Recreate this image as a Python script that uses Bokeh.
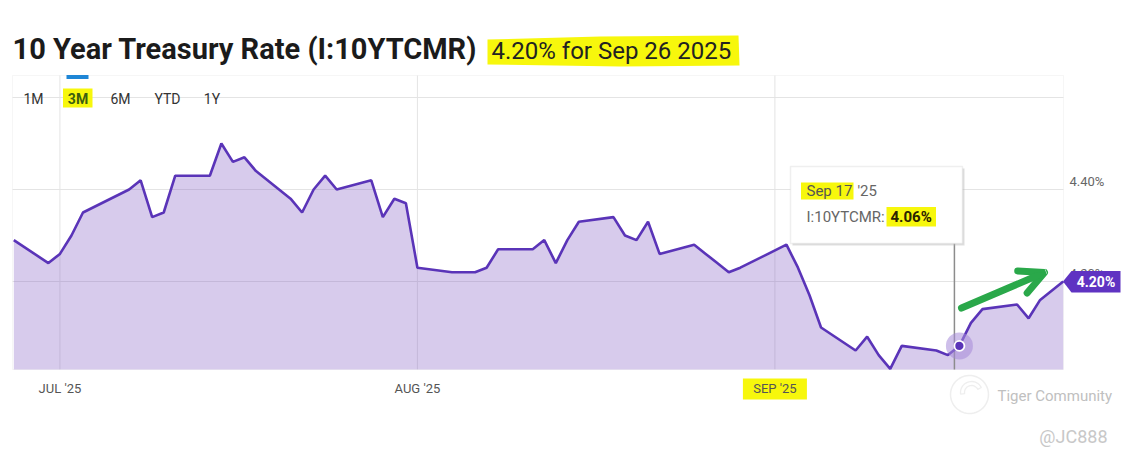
import numpy as np
import pandas as pd
from bokeh.plotting import figure
from bokeh.models import (ColumnDataSource, Range1d, LinearAxis, DatetimeAxis, FixedTicker, Grid,
                          Label, BoxAnnotation, PolyAnnotation, Arrow, OpenHead,
                          PrintfTickFormatter)
from bokeh.embed import file_html
from bokeh.resources import INLINE

# ---------------- data ----------------
DATES = ["2025-06-27", "2025-06-30", "2025-07-01", "2025-07-02", "2025-07-03", "2025-07-07",
         "2025-07-08", "2025-07-09", "2025-07-10", "2025-07-11", "2025-07-14", "2025-07-15",
         "2025-07-16", "2025-07-17", "2025-07-18", "2025-07-21", "2025-07-22", "2025-07-23",
         "2025-07-24", "2025-07-25", "2025-07-28", "2025-07-29", "2025-07-30", "2025-07-31",
         "2025-08-01", "2025-08-04", "2025-08-05", "2025-08-06", "2025-08-07", "2025-08-08",
         "2025-08-11", "2025-08-12", "2025-08-13", "2025-08-14", "2025-08-15", "2025-08-18",
         "2025-08-19", "2025-08-20", "2025-08-21", "2025-08-22", "2025-08-25", "2025-08-26",
         "2025-08-27", "2025-08-28", "2025-08-29", "2025-09-02", "2025-09-03", "2025-09-04",
         "2025-09-05", "2025-09-08", "2025-09-09", "2025-09-10", "2025-09-11", "2025-09-12",
         "2025-09-15", "2025-09-16", "2025-09-17", "2025-09-18", "2025-09-19", "2025-09-22",
         "2025-09-23", "2025-09-24", "2025-09-25", "2025-09-26"]
VALUES = [4.29, 4.24, 4.26, 4.30, 4.35, 4.40,
          4.42, 4.34, 4.35, 4.43, 4.43, 4.50,
          4.46, 4.47, 4.44, 4.38, 4.35, 4.40,
          4.43, 4.40, 4.42, 4.34, 4.38, 4.37,
          4.23, 4.22, 4.22, 4.22, 4.23, 4.27,
          4.27, 4.29, 4.24, 4.29, 4.33, 4.34,
          4.30, 4.29, 4.33, 4.26, 4.28, 4.26,
          4.24, 4.22, 4.23, 4.28, 4.23, 4.17,
          4.10, 4.05, 4.08, 4.04, 4.01, 4.06,
          4.05, 4.04, 4.06, 4.11, 4.14, 4.15,
          4.12, 4.16, 4.18, 4.20]
TICK_DATES = ["2025-07-01", "2025-08-01", "2025-09-01"]
TICK_LABELS = ["JUL '25", "AUG '25", "SEP '25"]
RIGHT_TICKS = [4.20, 4.40]
GRID_TICKS = [4.20, 4.40, 4.60]
RANGE_BUTTONS = ["1M", "3M", "6M", "YTD", "1Y"]
ACTIVE_BUTTON = "3M"
TITLE = "10 Year Treasury Rate (I:10YTCMR)"
SUBTITLE = "4.20% for Sep 26 2025"
SERIES = "I:10YTCMR"
TIP_DATE = "2025-09-17"
HIGHLIGHT_TICK = "2025-09-01"

# ---------------- geometry (page pixels of the reference) ----------------
FONT = "Roboto"
DAY = 86400000.0


def ms(s):
    return pd.Timestamp(s).value / 1e6


date_ms = [ms(d) for d in DATES]
tick_ms = [ms(d) for d in TICK_DATES]

W, H = 1128, 454
L, R, T, B = 12, 1063, 75, 369          # visible chart box
x_start = date_ms[0] - 0.113 * DAY
x_end = date_ms[-1] + 0.026 * DAY
y_start, y_end = 4.0087, 4.6478
KX = (x_end - x_start) / (R - L)
KY = (y_end - y_start) / (B - T)


def X(px):
    return x_start + (px - L) * KX


def Y(py):
    return y_end - (py - T) * KY


def py_of(v):
    return T + (y_end - v) / KY


p = figure(width=W, height=H, x_axis_type="datetime",
           x_range=Range1d(X(0), X(W)), y_range=Range1d(Y(H), Y(0)),
           x_axis_location=None, y_axis_location=None,
           toolbar_location=None, output_backend="svg",
           min_border=0, min_border_left=0, min_border_right=0,
           min_border_top=0, min_border_bottom=0)
p.background_fill_color = "white"
p.border_fill_color = "white"
p.outline_line_color = None
for g in list(p.center):
    if isinstance(g, Grid):
        p.center.remove(g)

# grid lines limited to the chart box
GC = "#e4e4e4"
p.segment(x0=[X(L)] * len(GRID_TICKS), x1=[X(R)] * len(GRID_TICKS),
          y0=GRID_TICKS, y1=GRID_TICKS, line_color=GC, line_width=1)
p.segment(x0=tick_ms, x1=tick_ms, y0=[y_start] * len(tick_ms), y1=[Y(T)] * len(tick_ms),
          line_color=GC, line_width=1)

# ---------------- series ----------------
src = ColumnDataSource(dict(date=date_ms, val=VALUES))
p.varea(x="date", y1=y_start, y2="val", source=src, fill_color="#7e57c2", fill_alpha=0.31)

# box outline
p.add_layout(BoxAnnotation(left=X(L), right=X(R), top=Y(T), bottom=Y(B),
                           fill_color=None, line_color="#e0e0e0", line_width=1,
                           level="underlay"))

# x axis (fixed at the bottom of the chart box)
xa = DatetimeAxis(fixed_location=y_start, ticker=FixedTicker(ticks=tick_ms),
                  major_label_overrides={int(t): lab for t, lab in zip(tick_ms, TICK_LABELS)},
                  axis_line_color=None, major_tick_line_color=None,
                  minor_tick_line_color=None, major_tick_out=0, major_tick_in=0,
                  major_label_standoff=11, major_label_text_font=FONT,
                  major_label_text_font_size="13px", major_label_text_color="#555555")
# highlighted month label background, drawn under the axis text
hi = tick_ms[TICK_DATES.index(HIGHLIGHT_TICK)]
p.add_layout(BoxAnnotation(left=hi - 32 * KX, right=hi + 32 * KX, top=Y(378), bottom=Y(399),
                           fill_color="#f7f70c", fill_alpha=1, line_color=None,
                           level="underlay"))
p.add_layout(xa, "below")

# right axis, labels sit 8px above their grid line
off = 8 * KY
p.extra_y_ranges = {"lab": Range1d(Y(H) - off, Y(0) - off)}
ra = LinearAxis(y_range_name="lab", fixed_location=X(R), ticker=FixedTicker(ticks=RIGHT_TICKS),
                formatter=PrintfTickFormatter(format="%.2f%%"),
                axis_line_color=None, major_tick_line_color=None, minor_tick_line_color=None,
                major_tick_out=0, major_tick_in=0, major_label_standoff=6,
                major_label_text_font=FONT, major_label_text_font_size="13px",
                major_label_text_color="#666666")
p.add_layout(ra, "right")

ti = DATES.index(TIP_DATE)
tip_x = date_ms[ti]
tip_v = VALUES[ti]
cross_x = tip_x - 5 * KX
p.segment(x0=[cross_x], y0=[Y(243)], x1=[cross_x], y1=[y_start],
          line_color="#8c8c8c", line_width=1.5)

p.line(x="date", y="val", source=src, line_color="#5a34b8", line_width=2.6)

tsrc = ColumnDataSource(dict(date=[tip_x], val=[tip_v]))
p.scatter(x="date", y="val", source=tsrc, size=27, fill_color="#a58bd8",
          fill_alpha=0.55, line_color=None)
p.scatter(x="date", y="val", source=tsrc, size=10, fill_color="#5a34b8",
          line_color="white", line_width=1.8)


# ---------------- annotations ----------------
def box(l, r, t, b, color, alpha=1.0, line=None, lw=1, level="annotation"):
    bx = BoxAnnotation(left=X(l), right=X(r), top=Y(t), bottom=Y(b),
                       fill_color=color, fill_alpha=alpha, line_color=line,
                       line_width=lw, level=level)
    p.add_layout(bx)
    return bx


def label(px, py, text, size, color, bold=False, align="left", baseline="middle"):
    lb = Label(x=X(px), y=Y(py), text=text, text_font=FONT, text_font_size=f"{size}px",
               text_color=color, text_font_style="bold" if bold else "normal",
               text_align=align, text_baseline=baseline)
    p.add_layout(lb)
    return lb


YEL = "#f7f70c"

# title
label(12, 48.5, TITLE, 29, "#1b1b1b", bold=True)
hl = PolyAnnotation(xs=[X(487), X(600), X(738), X(739), X(620), X(487)],
                    ys=[Y(39), Y(36), Y(35), Y(65), Y(66), Y(64)],
                    fill_color=YEL, fill_alpha=1.0, line_color=None)
p.add_layout(hl)
label(491, 50, SUBTITLE, 24, "#222222")

# range buttons
btn_x = [33, 77.5, 120, 167, 211.5]
for bx_, name in zip(btn_x, RANGE_BUTTONS):
    if name == ACTIVE_BUTTON:
        box(bx_ - 15, bx_ + 14.5, 88, 107, YEL)
        box(bx_ - 11.5, bx_ + 10.5, 74.5, 78.5, "#1e86d6")
        label(bx_, 98, name, 14, "#3b5e10", bold=True, align="center")
    else:
        label(bx_, 98, name, 14, "#333333", align="center")

# tooltip
box(792, 964, 168, 245, "#b5b5b5", alpha=0.45)
box(790, 962, 166, 243, "white", line="#c9c9c9", lw=1.5)
box(800.5, 853, 182, 199, YEL)
tdt = pd.Timestamp(TIP_DATE)
label(806, 190.5, tdt.strftime("%b %d"), 15, "#555555")
label(857, 190.5, "'" + tdt.strftime("%y"), 15, "#666666")
label(806, 216, SERIES + ":", 15, "#666666")
box(886, 935.5, 206.5, 226, YEL)
label(890, 216, f"{tip_v:.2f}%", 15, "#2a2200", bold=True)

# last value tag
yl = py_of(VALUES[-1])
tag = PolyAnnotation(xs=[X(1062.5), X(1071), X(1120), X(1120), X(1071)],
                     ys=[Y(yl), Y(yl - 10.5), Y(yl - 10.5), Y(yl + 11), Y(yl + 11)],
                     fill_color="#5f33c2", fill_alpha=1.0, line_color=None)
p.add_layout(tag)
label(1095.5, yl + 0.5, f"{VALUES[-1]:.2f}%", 14, "white", bold=True, align="center")

# green arrow
p.add_layout(Arrow(x_start=X(961), y_start=Y(307.5), x_end=X(1044), y_end=Y(272),
                   line_color="#2aa84a", line_width=7, line_cap="round",
                   end=OpenHead(size=24, line_color="#2aa84a", line_width=7,
                                line_cap="round")))

# watermark
ang = np.linspace(0, 2 * np.pi, 48)
ring = PolyAnnotation(xs=[X(969 + 19 * np.cos(a)) for a in ang],
                      ys=[Y(394 + 19 * np.sin(a)) for a in ang],
                      fill_color=None, line_color="#c8c8c8", line_width=1.5)
p.add_layout(ring)
arc = np.linspace(0.15 * np.pi, 1.05 * np.pi, 20)
inner = PolyAnnotation(xs=[X(971 + 11 * np.cos(a)) for a in arc] + [X(971 + 7 * np.cos(a)) for a in arc[::-1]],
                       ys=[Y(392 - 11 * np.sin(a)) for a in arc] + [Y(392 - 7 * np.sin(a)) for a in arc[::-1]],
                       fill_color=None, line_color="#c8c8c8", line_width=1.3)
p.add_layout(inner)
label(997, 395, "Tiger Community", 15, "#c0c0c0")
label(1107, 436, "@JC888", 18, "#c8c8c8", align="right")

open("out.html", "w").write(file_html(p, INLINE))
